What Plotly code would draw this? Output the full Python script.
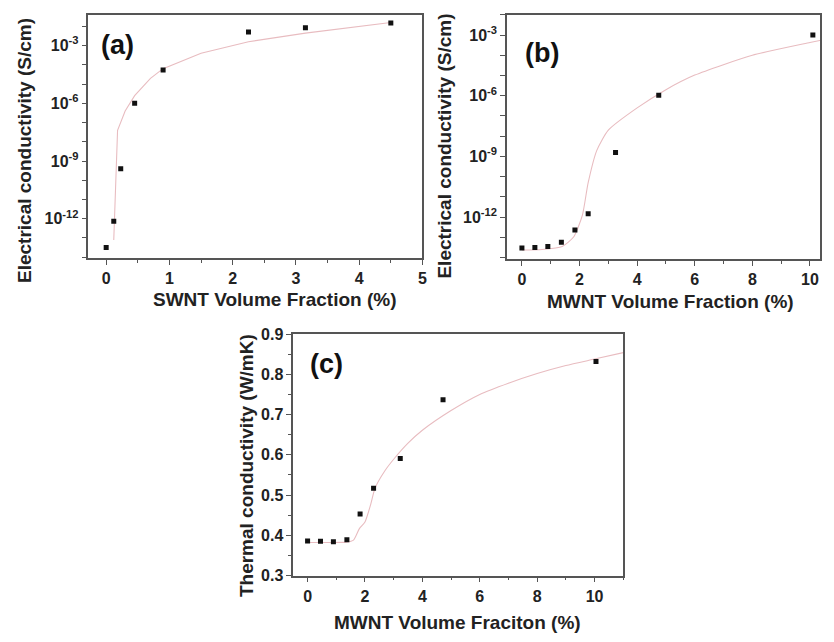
import plotly.graph_objects as go

# ---- data ----
# (a) SWNT electrical conductivity
a_x = [0.0, 0.12, 0.23, 0.45, 0.9, 2.25, 3.15, 4.5]
a_y = [10**-13.5, 10**-12.13, 10**-9.4, 10**-6.0, 10**-4.27, 10**-2.29, 10**-2.07, 10**-1.83]
a_fit_x = [0.12, 0.15, 0.18, 0.3, 0.45, 0.7, 0.9, 1.5, 2.25, 3.15, 4.5]
a_fit_y = [10**-13.1, 10**-10.0, 10**-7.4, 10**-6.4, 10**-5.6, 10**-4.7, 10**-4.2, 10**-3.4, 10**-2.8, 10**-2.35, 10**-1.8]

# (b) MWNT electrical conductivity
b_x = [0.0, 0.45, 0.9, 1.37, 1.84, 2.3, 3.25, 4.75, 10.1]
b_y = [10**-13.53, 10**-13.5, 10**-13.45, 10**-13.24, 10**-12.64, 10**-11.84, 10**-8.81, 10**-5.98, 10**-3.0]
b_fit_x = [0.0, 0.7, 1.4, 1.8, 2.1, 2.3, 2.6, 3.0, 4.0, 5.0, 6.0, 8.0, 10.0, 10.4]
b_fit_y = [10**-13.63, 10**-13.6, 10**-13.45, 10**-12.97, 10**-11.9, 10**-10.3, 10**-8.7, 10**-7.7, 10**-6.6, 10**-5.7, 10**-4.98, 10**-4.0, 10**-3.37, 10**-3.25]

# (c) MWNT thermal conductivity
c_x = [0.0, 0.45, 0.9, 1.37, 1.83, 2.3, 3.23, 4.72, 10.05]
c_y = [0.386, 0.385, 0.384, 0.389, 0.453, 0.517, 0.591, 0.737, 0.832]
c_fit_x = [0.0, 0.7, 1.35, 1.6, 1.8, 2.0, 2.2, 2.35, 2.7, 3.0, 3.5, 4.0, 5.0, 6.0, 7.0, 8.0, 9.0, 10.0, 11.0]
c_fit_y = [0.382, 0.382, 0.383, 0.388, 0.416, 0.433, 0.477, 0.517, 0.561, 0.589, 0.629, 0.661, 0.710, 0.750, 0.778, 0.802, 0.822, 0.838, 0.854]

log_tickvals = [10**-k for k in range(1, 15)]
log_ticktext = ["10<sup>-%d</sup>" % k if k in (3, 6, 9, 12) else "" for k in range(1, 15)]

W, H = 834, 642
FONT = "Liberation Sans, Arial, sans-serif"
AXCOL = "#555555"
FITCOL = "#e8bcc0"
TXT = "#222222"

def dom_x(l, r):
    return [l / W, r / W]

def dom_y(t, b):
    return [1 - b / H, 1 - t / H]

fig = go.Figure()

marker = dict(symbol="square", size=5, color="#111111")
fitline = dict(color=FITCOL, width=1.1, shape="spline", smoothing=0.6)

fig.add_trace(go.Scatter(x=a_fit_x, y=a_fit_y, mode="lines", line=dict(color=FITCOL, width=1.1), xaxis="x", yaxis="y", showlegend=False))
fig.add_trace(go.Scatter(x=a_x, y=a_y, mode="markers", marker=marker, xaxis="x", yaxis="y", showlegend=False))
fig.add_trace(go.Scatter(x=b_fit_x, y=b_fit_y, mode="lines", line=fitline, xaxis="x2", yaxis="y2", showlegend=False))
fig.add_trace(go.Scatter(x=b_x, y=b_y, mode="markers", marker=marker, xaxis="x2", yaxis="y2", showlegend=False))
fig.add_trace(go.Scatter(x=c_fit_x, y=c_fit_y, mode="lines", line=fitline, xaxis="x3", yaxis="y3", showlegend=False))
fig.add_trace(go.Scatter(x=c_x, y=c_y, mode="markers", marker=marker, xaxis="x3", yaxis="y3", showlegend=False))

tickfont = dict(family=FONT, size=16, color=TXT, weight="bold")
titlefont = dict(family=FONT, size=19, color=TXT, weight="bold")

common = dict(showgrid=False, zeroline=False, showline=True, linecolor=AXCOL, linewidth=1.5,
              mirror=True, ticks="outside", ticklen=5, tickwidth=1.2, tickcolor=AXCOL, tickfont=tickfont)

def xaxis(domain, anchor, rng, dtick, minor_dtick):
    return dict(domain=domain, anchor=anchor, range=rng, dtick=dtick, tick0=0,
                minor=dict(dtick=minor_dtick, tick0=0, ticks="outside", ticklen=3, tickcolor=AXCOL, showgrid=False),
                **common)

def ylog(domain, anchor, rng):
    return dict(domain=domain, anchor=anchor, type="log", range=rng,
                tickmode="array", tickvals=log_tickvals, ticktext=log_ticktext, **common)

fig.update_layout(
    width=W, height=H, margin=dict(l=0, r=0, t=0, b=0),
    paper_bgcolor="white", plot_bgcolor="white",
    xaxis=xaxis(dom_x(89, 425), "y", [-0.28, 5.0], 1, 0.5),
    yaxis=ylog(dom_y(7, 257), "x", [-14.05, -1.4]),
    xaxis2=xaxis(dom_x(510, 825), "y2", [-0.52, 10.35], 2, 1),
    yaxis2=ylog(dom_y(7, 258), "x2", [-14.08, -2.0]),
    xaxis3=xaxis(dom_x(295, 627), "y3", [-0.5, 11.0], 2, 1),
    yaxis3=dict(domain=dom_y(335, 583), anchor="x3", range=[0.3, 0.9], dtick=0.1, tickformat=".1f",
                minor=dict(dtick=0.05, ticks="outside", ticklen=3, tickcolor=AXCOL, showgrid=False),
                **common),
)

def px(x):
    return x / W

def py(y):
    return 1 - y / H

titles = [
    ("Electrical conductivity (S/cm)", 24, 146, -90),
    ("Electrical conductivity (S/cm)", 447, 142, -90),
    ("Thermal conductivity (W/mK)", 248, 470, -90),
    ("SWNT Volume Fraction (%)", 276, 299, 0),
    ("MWNT Volume Fraction (%)", 675, 301, 0),
    ("MWNT Volume Fraciton (%)", 460, 631, 0),
]
for txt, x, y, ang in titles:
    fig.add_annotation(text=txt, xref="paper", yref="paper", x=px(x), y=py(y),
                       xanchor="center", yanchor="middle", textangle=ang,
                       showarrow=False, font=titlefont)

labfont = dict(family=FONT, size=27, color="#111111", weight="bold")
for txt, x, y in [("(a)", 118, 38), ("(b)", 545, 46), ("(c)", 328, 366)]:
    fig.add_annotation(text=txt, xref="paper", yref="paper", x=px(x), y=py(y),
                       xanchor="center", yanchor="middle", showarrow=False, font=labfont)

fig.write_html("out.html")
